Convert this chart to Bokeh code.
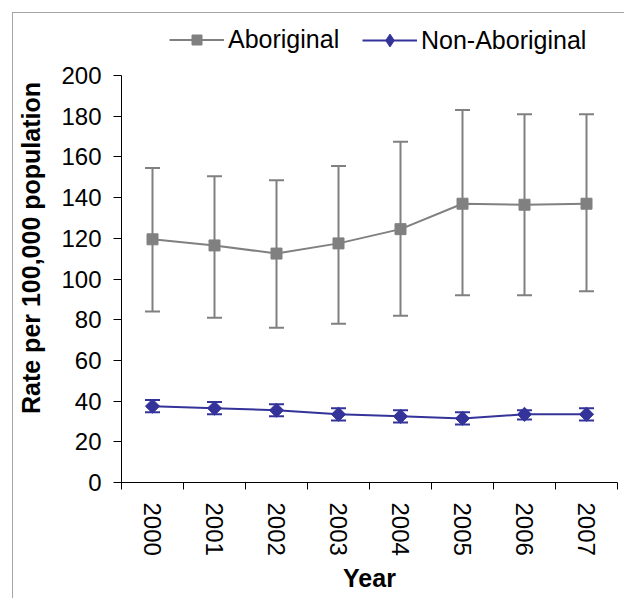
import numpy as np
from bokeh.plotting import figure
from bokeh.models import Range1d, FixedTicker, Legend, LegendItem, ColumnDataSource
from bokeh.embed import file_html
from bokeh.resources import INLINE

# ---- data ----
years = ["2000", "2001", "2002", "2003", "2004", "2005", "2006", "2007"]
aboriginal = [119.5, 116.5, 112.5, 117.5, 124.5, 137.0, 136.5, 137.0]
aboriginal_upper = [154.5, 150.5, 148.5, 155.5, 167.5, 183.0, 181.0, 181.0]
aboriginal_lower = [84.0, 81.0, 76.0, 78.0, 82.0, 92.0, 92.0, 94.0]
non_aboriginal = [37.5, 36.5, 35.5, 33.5, 32.5, 31.5, 33.5, 33.5]
non_aboriginal_upper = [40.5, 39.5, 38.5, 36.5, 35.5, 34.5, 35.5, 36.5]
non_aboriginal_lower = [34.5, 33.5, 32.5, 30.5, 29.5, 28.5, 31.0, 30.5]
y_ticks = [0, 20, 40, 60, 80, 100, 120, 140, 160, 180, 200]
series_names = ["Aboriginal", "Non-Aboriginal"]

GRAY = "#808080"
NAVY = "#333399"
FONT = "Liberation Sans"

# layout: frame runs to the canvas top so the legend can sit inside it
FRAME_H = 469          # px
AXIS_H = 407           # px spanned by 0..200
y_top = max(y_ticks) * FRAME_H / AXIS_H

xpos = [i + 0.5 for i in range(len(years))]

src_a = ColumnDataSource(dict(x=xpos, y=aboriginal, up=aboriginal_upper, lo=aboriginal_lower))
src_n = ColumnDataSource(dict(x=xpos, y=non_aboriginal, up=non_aboriginal_upper, lo=non_aboriginal_lower))

p = figure(width=612, height=586, output_backend="svg", toolbar_location=None,
           x_range=Range1d(0, len(years)), y_range=Range1d(0, y_top),
           min_border_left=108, min_border_right=8, min_border_top=0, min_border_bottom=117)
p.styles = {"margin-left": "12px", "margin-top": "12px",
            "border-left": "1px solid #a6a6a6", "border-top": "1px solid #a6a6a6"}
p.outline_line_color = None
p.xgrid.visible = False
p.ygrid.visible = False
p.background_fill_color = "white"
p.border_fill_color = "white"

# error bars
for src, col in ((src_a, GRAY), (src_n, NAVY)):
    p.segment(x0="x", y0="lo", x1="x", y1="up", source=src, line_color=col, line_width=2)
    p.scatter(x="x", y="up", source=src, marker="dash", size=15, line_color=col, line_width=2)
    p.scatter(x="x", y="lo", source=src, marker="dash", size=15, line_color=col, line_width=2)

la = p.line(x="x", y="y", source=src_a, line_color=GRAY, line_width=2)
ma = p.scatter(x="x", y="y", source=src_a, marker="square", size=11,
               fill_color=GRAY, line_color=GRAY)
ln = p.line(x="x", y="y", source=src_n, line_color=NAVY, line_width=2)
mn = p.scatter(x="x", y="y", source=src_n, marker="square", size=10, angle=np.pi / 4,
               fill_color=NAVY, line_color=NAVY)
# legend-only diamond swatch (legend swatches ignore marker rotation)
mn_key = p.scatter(x="x", y="y", source=src_n, marker="diamond",
                   fill_color=NAVY, line_color=NAVY, visible=False)

# axes
xa = p.xaxis[0]
xa.ticker = FixedTicker(ticks=xpos, minor_ticks=list(range(len(years) + 1)))
xa.major_label_overrides = {x: y for x, y in zip(xpos, years)}
xa.major_label_orientation = "vertical"
xa.major_tick_out = 0
xa.major_tick_in = 0
xa.minor_tick_out = 7
xa.minor_tick_in = 0
xa.minor_tick_line_color = "black"
xa.major_label_standoff = 13
xa.axis_label = "Year"
xa.axis_label_standoff = 5

ya = p.yaxis[0]
ya.ticker = FixedTicker(ticks=y_ticks, minor_ticks=[])
ya.bounds = (0, max(y_ticks))
ya.major_tick_out = 8
ya.major_tick_in = 0
ya.major_label_standoff = 12
ya.axis_label = "Rate per 100,000 population"
ya.axis_label_standoff = 13

for ax in (xa, ya):
    ax.axis_line_color = "black"
    ax.axis_line_width = 1
    ax.major_tick_line_color = "black"
    ax.major_label_text_font = FONT
    ax.major_label_text_font_size = "24px"
    ax.major_label_text_color = "black"
    ax.axis_label_text_font = FONT
    ax.axis_label_text_font_size = "25px"
    ax.axis_label_text_font_style = "bold"
    ax.axis_label_text_color = "black"

common = dict(orientation="horizontal", glyph_width=55, label_standoff=4,
              padding=0, margin=0, border_line_color=None, background_fill_alpha=0,
              inactive_fill_alpha=0,
              label_text_font=FONT, label_text_font_size="25px", label_text_color="black")
legend1 = Legend(items=[LegendItem(label=series_names[0], renderers=[la, ma])],
                 location=(48, 428), glyph_height=25, label_height=28, **common)
legend2 = Legend(items=[LegendItem(label=series_names[1], renderers=[ln, mn_key])],
                 location=(241, 426), glyph_height=32, label_height=32, **common)
p.add_layout(legend1, "center")
p.add_layout(legend2, "center")

open("out.html", "w").write(file_html(p, INLINE))
